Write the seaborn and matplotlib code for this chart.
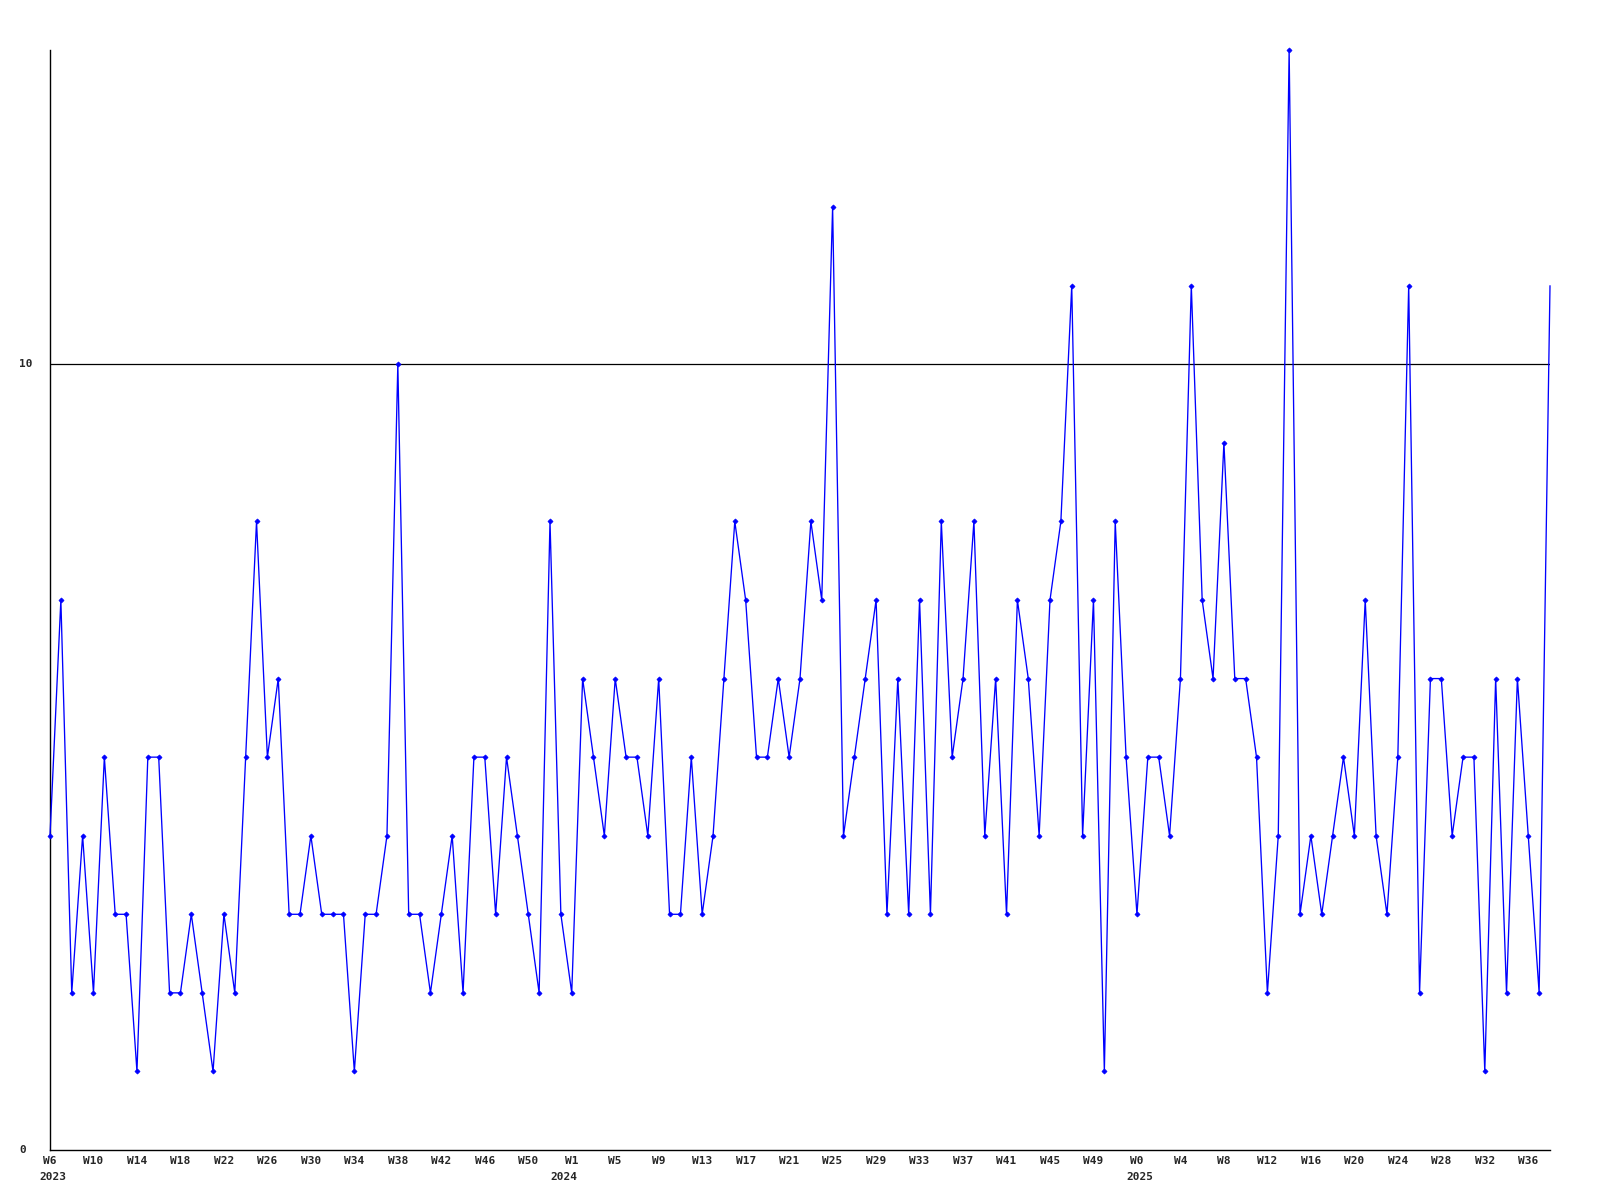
import matplotlib
matplotlib.use("Agg")
import matplotlib.pyplot as plt
import matplotlib.transforms as mtransforms
import numpy as np
import pandas as pd
import seaborn as sns

# weekly counts, one list per year (2023 starts at W6)
counts_2023 = [4, 7, 2, 4, 2, 5, 3, 3, 1, 5, 5, 2, 2, 3, 2, 1, 3, 2,
               5, 8, 5, 6, 3, 3, 4, 3, 3, 3, 1, 3, 3, 4, 10, 3, 3, 2,
               3, 4, 2, 5, 5, 3, 5, 4, 3, 2, 8]
counts_2024 = [3, 2, 6, 5, 4, 6,
               5, 5, 4, 6, 3, 3, 5, 3, 4, 6, 8, 7, 5, 5, 6, 5, 6, 8,
               7, 12, 4, 5, 6, 7, 3, 6, 3, 7, 3, 8, 5, 6, 8, 4, 6,
               3, 7, 6, 4, 7, 8, 11, 4, 7, 1, 8, 5]
counts_2025 = [3, 5, 5, 4, 6, 11,
               7, 6, 9, 6, 6, 5, 2, 4, 14, 3, 4, 3, 4, 5, 4, 7, 4,
               3, 5, 11, 2, 6, 6, 4, 5, 5, 1, 6, 2, 6, 4, 2, 11]

week_labels = (["W%d" % w for w in range(6, 51, 4)]
               + ["W%d" % w for w in range(1, 50, 4)]
               + ["W%d" % w for w in range(0, 37, 4)])
year_labels = ["2023", "2024", "2025"]
year_starts = [0, len(counts_2023), len(counts_2023) + len(counts_2024)]
y_ticks = [0, 10]

values = counts_2023 + counts_2024 + counts_2025
df = pd.DataFrame({"idx": np.arange(len(values)), "count": values})

sns.set_style("white")
plt.rcParams["font.family"] = ["DejaVu Sans Mono"]

fig = plt.figure(figsize=(16, 12), dpi=100)
ax = fig.add_axes([50 / 1600, 50 / 1200, 1500 / 1600, 1100 / 1200])

ax.axhline(10, color="black", lw=0.9, zorder=1)

# last point drawn without a marker, as in the original
sns.lineplot(data=df, x="idx", y="count", ax=ax, color="#0000ff", lw=0.95,
             marker="D", markersize=2.6, markeredgewidth=0.5,
             markeredgecolor="#0000ff", markevery=list(range(len(values) - 1)),
             clip_on=False, zorder=3)

ax.set_xlim(0, len(values) - 1)
ax.set_ylim(0, 14)

for side in ["top", "right"]:
    ax.spines[side].set_visible(False)
for side in ["left", "bottom"]:
    ax.spines[side].set_color("black")
    ax.spines[side].set_linewidth(1.0)

ax.set_xlabel("")
ax.set_ylabel("")

ax.set_xticks(list(range(0, len(values), 4)))
ax.set_xticklabels(week_labels, fontsize=8, fontweight="bold")
ax.tick_params(axis="x", length=0, pad=4)

ax.set_yticks([])
ytrans = mtransforms.blended_transform_factory(fig.transFigure, ax.transData)
for v in y_ticks:
    ax.text(19 / 1600, v, str(v), transform=ytrans, ha="left", va="center",
            fontsize=8, fontweight="bold")

xtrans = mtransforms.blended_transform_factory(ax.transData, fig.transFigure)
for pos, lab in zip(year_starts, year_labels):
    ax.text(pos + 0.3, 1 - 1177 / 1200, lab, transform=xtrans, ha="center",
            va="center", fontsize=8, fontweight="bold")

fig.savefig("out.png", dpi=100, facecolor="white")
